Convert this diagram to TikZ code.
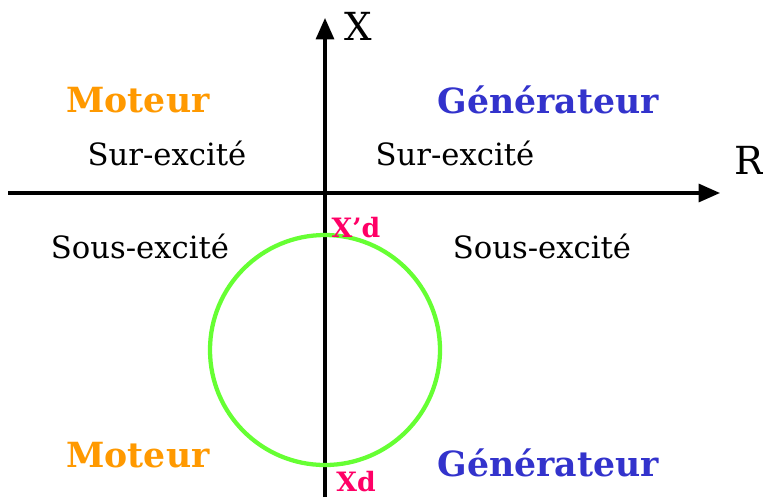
\documentclass[tikz,border=0pt]{standalone}
\usepackage{fontspec}
\setmainfont{DejaVu Serif}
\usepackage{xcolor}
\usepackage{tikz}
\usetikzlibrary{positioning, arrows.meta}

\definecolor{moteurorange}{HTML}{FF9900}
\definecolor{genblue}{HTML}{3333CC}
\definecolor{reactpink}{HTML}{FF0066}
\definecolor{circgreen}{HTML}{66FF33}

\tikzset{
  axis/.style={line width=2.3pt, -{Triangle[length=16pt, width=13.5pt]}},
  mode/.style={font=\bfseries\fontsize{26}{30}\selectfont},
  regime/.style={font=\fontsize{23}{27}\selectfont},
  reactance/.style={font=\bfseries\fontsize{20}{24}\selectfont, text=reactpink},
  axlabel/.style={font=\fontsize{29}{33}\selectfont}
}

\begin{document}
\begin{tikzpicture}[x=0.75pt, y=-0.75pt]
\useasboundingbox (0,0) rectangle (763,497);

% axes
\coordinate (xbot) at (325,497);
\coordinate (xtop) at (325,18);
\coordinate (rleft) at (8,193);
\coordinate (rright) at (720,193);
\draw[axis] (xbot) -- (xtop);
\draw[axis] (rleft) -- (rright);
\node[axlabel] (xlab) at (358,26) {X};
\node[axlabel] (rlab) at (749,160) {R};

% cercle
\draw[circgreen, line width=3.2pt] (325,350) circle[radius=115];
\node[reactance] (xpd) at (356,228) {X’d};
\node[reactance] (xd) at (356,482) {Xd};

% quadrants
\node[mode, text=moteurorange] (mot1) at (138,100) {Moteur};
\node[mode, text=genblue] (gen1) at (548,100) {Générateur};
\node[mode, text=moteurorange] (mot2) at (138,455) {Moteur};
\node[mode, text=genblue] (gen2) at (548,463) {Générateur};

\node[regime] (sur1) at (167,153) {Sur-excité};
\node[regime] (sur2) at (455,153) {Sur-excité};
\node[regime] (sous1) at (140,246) {Sous-excité};
\node[regime] (sous2) at (542,246) {Sous-excité};
\end{tikzpicture}
\end{document}
